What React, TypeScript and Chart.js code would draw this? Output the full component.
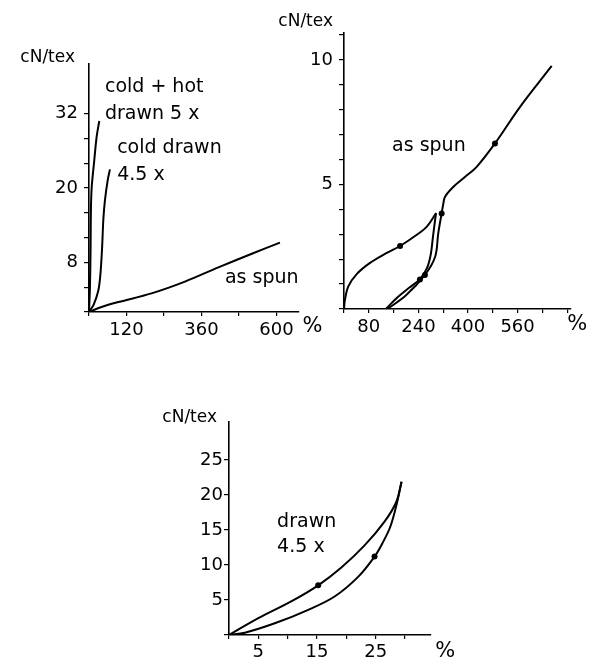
import React, { useEffect, useRef } from "react";
import { Chart, registerables } from "chart.js";
Chart.register(...registerables);

const FONT = '"DejaVu Sans", sans-serif';
const INK = "#000";

// ---------- Panel A: fibres, strain (%) vs tenacity (cN/tex)
const aAsSpunX = [0, 40, 94, 200, 307, 414, 521, 611];
const aAsSpunY = [0, 0.8, 1.6, 3.0, 4.9, 7.2, 9.4, 11.2];
const aColdX = [0, 15, 30, 37, 42, 46, 51, 60, 67];
const aColdY = [0, 1.2, 3.5, 6.4, 10.5, 15, 18, 21.3, 23];
const aHotX = [0, 3, 5, 6, 8.5, 16, 24.5, 33];
const aHotY = [0, 4, 10, 16, 20, 24, 28.3, 30.8];
const aXTicks = [0, 120, 240, 360, 480, 600];
const aXLabels = [120, 360, 600];
const aYTicks = [0, 4, 8, 12, 16, 20, 24, 28, 32];
const aYLabels = [8, 20, 32];

// ---------- Panel B: as spun, load / unload / reload
const bLoadX = [0, 3, 14, 41, 84, 138, 181, 236, 268, 297];
const bLoadY = [0, 0.37, 0.91, 1.4, 1.85, 2.25, 2.53, 2.99, 3.32, 3.85];
const bUnloadX = [297, 292, 286, 280, 268, 245, 210, 171, 135];
const bUnloadY = [3.85, 3.4, 2.8, 2.2, 1.65, 1.2, 0.85, 0.45, 0];
const bReloadX = [140, 200, 261, 294, 304, 315, 320, 326, 353, 390, 428, 487, 568, 670];
const bReloadY = [0, 0.55, 1.37, 2.1, 3.04, 3.84, 4.2, 4.51, 4.91, 5.3, 5.71, 6.65, 8.12, 9.76];
const bMarkX = [181, 245, 261, 315, 487];
const bMarkY = [2.53, 1.18, 1.37, 3.84, 6.65];
const bXTicks = [0, 80, 160, 240, 320, 400, 480, 560, 640, 720];
const bXLabels = [80, 240, 400, 560];
const bYTicks = [0, 1, 2, 3, 4, 5, 6, 7, 8, 9, 10, 11];
const bYLabels = [5, 10];

// ---------- Panel C: drawn 4.5 x, hysteresis loop
const cUpX = [0, 5, 10.6, 15.2, 19.1, 23.1, 26.5, 28.5, 29.4];
const cUpY = [0, 2.4, 4.8, 7.1, 9.6, 12.8, 16.2, 19, 21.9];
const cDownX = [29.4, 28.6, 27.5, 26.2, 24.8, 22, 18, 13.5, 7.8, 2.7, 0];
const cDownY = [21.9, 18.8, 15.5, 13.2, 11.2, 8.3, 5.5, 3.6, 1.67, 0.33, 0];
const cMarkX = [15.2, 24.8];
const cMarkY = [7.1, 11.2];
const cXTicks = [0, 5, 10, 15, 20, 25, 30];
const cXLabels = [5, 15, 25];
const cYTicks = [0, 5, 10, 15, 20, 25];
const cYLabels = [5, 10, 15, 20, 25];

const pts = (xs: number[], ys: number[]) => xs.map((x, i) => ({ x, y: ys[i] }));

function curve(xs: number[], ys: number[]) {
  return {
    data: pts(xs, ys),
    showLine: true,
    borderColor: INK,
    borderWidth: 2,
    pointRadius: 0,
    tension: 0.35,
    fill: false,
  };
}
function marks(xs: number[], ys: number[]) {
  return {
    data: pts(xs, ys),
    showLine: false,
    pointRadius: 3,
    pointStyle: "circle",
    backgroundColor: INK,
    borderColor: INK,
    borderWidth: 0,
  };
}

function axis(ticks: number[], labels: number[], o: any) {
  return {
    type: "linear",
    min: o.min,
    max: o.max,
    afterBuildTicks: (s: any) => {
      s.ticks = ticks.map((v) => ({ value: v }));
    },
    afterFit: (s: any) => {
      if (s.isHorizontal()) s.height = o.size;
      else s.width = o.size;
    },
    ticks: {
      autoSkip: false,
      maxRotation: 0,
      minRotation: 0,
      padding: o.padding,
      color: INK,
      font: { family: FONT, size: 18 },
      callback: (v: any) => (labels.includes(Number(v)) ? String(v) : ""),
    },
    grid: {
      drawOnChartArea: false,
      drawTicks: true,
      tickLength: o.tickLength,
      color: INK,
      lineWidth: 1.2,
    },
    border: { display: true, color: INK, width: 1.6 },
  };
}

function annotPlugin(cfg: any) {
  return {
    id: "annot",
    afterDraw(chart: any) {
      const { ctx, chartArea, scales } = chart;
      ctx.save();
      ctx.fillStyle = INK;
      ctx.textBaseline = "middle";
      ctx.textAlign = "left";
      ctx.font = `19px ${FONT}`;
      for (const l of cfg.labels) {
        ctx.fillText(l.text, scales.x.getPixelForValue(l.x), scales.y.getPixelForValue(l.y));
      }
      ctx.textAlign = "right";
      ctx.font = `17px ${FONT}`;
      ctx.fillText("cN/tex", chartArea.left + cfg.yTitle[0], chartArea.top + cfg.yTitle[1]);
      ctx.textAlign = "left";
      ctx.font = `21px ${FONT}`;
      ctx.fillText("%", chartArea.right + cfg.xTitle[0], chartArea.bottom + cfg.xTitle[1]);
      ctx.restore();
    },
  };
}

function makeChart(canvas: HTMLCanvasElement, p: any) {
  return new Chart(canvas, {
    type: "scatter",
    data: { datasets: p.datasets },
    options: {
      animation: false,
      responsive: false,
      devicePixelRatio: 1,
      layout: { padding: { top: p.padTop, right: p.padRight, left: 0, bottom: 0 } },
      plugins: { legend: { display: false }, tooltip: { enabled: false } },
      scales: { x: p.x, y: p.y },
    },
    plugins: [annotPlugin(p.annot)],
  } as any);
}

export default function App() {
  const ra = useRef<HTMLCanvasElement>(null);
  const rb = useRef<HTMLCanvasElement>(null);
  const rc = useRef<HTMLCanvasElement>(null);

  useEffect(() => {
    const charts: Chart[] = [];
    charts.push(
      makeChart(ra.current!, {
        datasets: [curve(aAsSpunX, aAsSpunY), curve(aColdX, aColdY), curve(aHotX, aHotY)],
        padTop: 64,
        padRight: 31.6,
        x: axis(aXTicks, aXLabels, { min: 0, max: 670, size: 33, tickLength: 4, padding: 4 }),
        y: axis(aYTicks, aYLabels, { min: 0, max: 40, size: 89, tickLength: 5, padding: 6 }),
        annot: {
          labels: [
            { text: "cold + hot", x: 51, y: 36.2 },
            { text: "drawn 5 x", x: 51, y: 32 },
            { text: "cold drawn", x: 90, y: 26.5 },
            { text: "4.5 x", x: 90, y: 22.1 },
            { text: "as spun", x: 435, y: 5.5 },
          ],
          yTitle: [-14, -6],
          xTitle: [4, 15],
        },
      })
    );
    charts.push(
      makeChart(rb.current!, {
        datasets: [
          curve(bLoadX, bLoadY),
          curve(bUnloadX, bUnloadY),
          curve(bReloadX, bReloadY),
          marks(bMarkX, bMarkY),
        ],
        padTop: 32.6,
        padRight: 21.7,
        x: axis(bXTicks, bXLabels, { min: 0, max: 730, size: 36, tickLength: 4, padding: 4 }),
        y: axis(bYTicks, bYLabels, { min: 0, max: 11.1, size: 74, tickLength: 5, padding: 6 }),
        annot: {
          labels: [{ text: "as spun", x: 155, y: 6.55 }],
          yTitle: [-11, -10.6],
          xTitle: [-3, 16],
        },
      })
    );
    charts.push(
      makeChart(rc.current!, {
        datasets: [curve(cUpX, cUpY), curve(cDownX, cDownY), marks(cMarkX, cMarkY)],
        padTop: 32.2,
        padRight: 29.7,
        x: axis(cXTicks, cXLabels, { min: 0, max: 34.3, size: 29, tickLength: 4, padding: 3 }),
        y: axis(cYTicks, cYLabels, { min: 0, max: 30.4, size: 79, tickLength: 5, padding: 1 }),
        annot: {
          labels: [
            { text: "drawn", x: 8.2, y: 16.1 },
            { text: "4.5 x", x: 8.2, y: 12.6 },
          ],
          yTitle: [-12, -5],
          xTitle: [5, 17],
        },
      })
    );
    return () => charts.forEach((c) => c.destroy());
  }, []);

  const abs = (l: number, t: number): React.CSSProperties => ({ position: "absolute", left: l, top: t });

  return (
    <div style={{ position: "absolute", left: 0, top: 0, width: 592, height: 664, background: "#fff" }}>
      <canvas ref={ra} width={330} height={345} style={abs(0, 0)} />
      <canvas ref={rb} width={322} height={345} style={abs(270, 0)} />
      <canvas ref={rc} width={310} height={274} style={abs(150, 390)} />
    </div>
  );
}
